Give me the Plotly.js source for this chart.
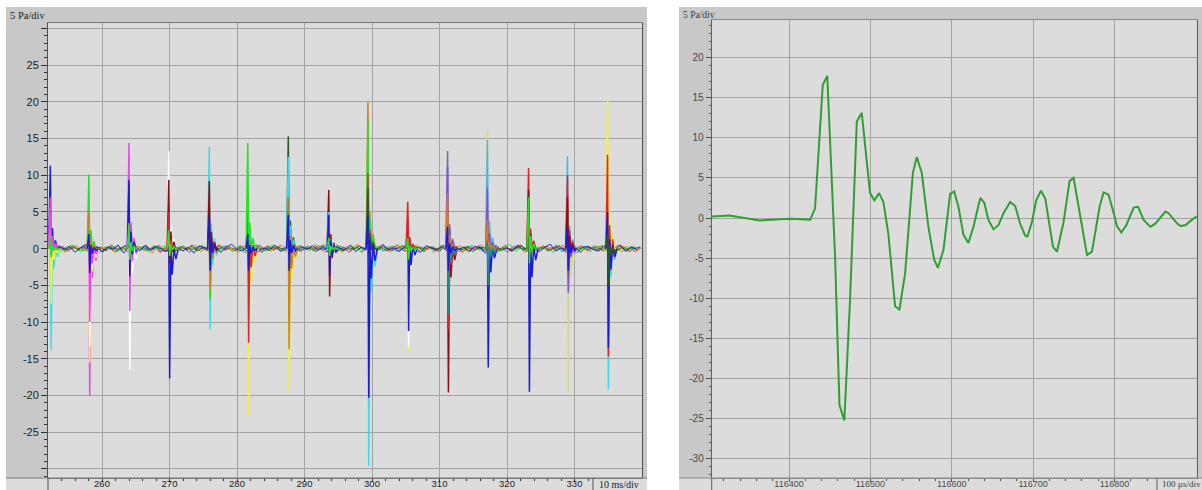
<!DOCTYPE html>
<html><head><meta charset="utf-8">
<script src="https://cdn.plot.ly/plotly-3.0.1.min.js"></script>
<style>html,body{margin:0;padding:0;background:#fff}#plot{width:1202px;height:490px}</style>
</head><body><div id="plot"></div>
<script>
// ---------- LEFT PANEL DATA (ms, Pa) ----------
const SPIKE_T = [252.35, 258.06, 264.0, 269.9, 275.9, 281.6, 287.6, 293.6, 299.4, 305.3, 311.2, 317.1, 323.2, 328.96, 334.9];
// each spike: [channel, max Pa, min Pa] in drawing order
const SPIKE_1  = [["cyan",0.5,-13.8],["blue",11.3,-2],["yellow",3.8,-7.5],["magenta",7,-1],["green",1.5,-1.2]];
const SPIKE_2  = [["magenta",1,-20],["yellow",0.5,-15.5],["white",0,-13.3],["magenta",0,-10],["green",10.1,-1],["orange",5,-1.5],["blue",2,-3.3]];
const SPIKE_3  = [["white",0,-16.5],["magenta",14.4,-8.5],["blue",9.4,-3.8],["green",3.5,-1.5]];
const SPIKE_4  = [["blue",0,-17.7],["white",13.3,0],["darkred",9.4,-2],["red",5,-1],["green",2.5,-1]];
const SPIKE_5  = [["cyan",13.9,-11],["darkred",9.2,-1],["green",2,-7],["orange",1,-5.5],["blue",4.6,-3]];
const SPIKE_6  = [["yellow",0,-22.8],["red",5,-12.8],["green",14.4,0],["blue",2,-3]];
const SPIKE_7  = [["yellow",0,-19.6],["orange",2,-13.7],["darkgreen",15.3,0],["cyan",12.5,-2],["olive",7,-1],["blue",4.6,-3]];
const SPIKE_8  = [["darkred",8,-6.5],["cyan",5,0],["blue",4.6,-3.7],["green",1.5,-1]];
const SPIKE_9  = [["cyan",0,-29.6],["orange",20,0],["green",17.5,0],["brown",10.3,0],["darkgreen",8.3,-1],["blue",4.4,-20.3]];
const SPIKE_10 = [["yellow",0,-14],["white",0,-13.4],["blue",4,-11.2],["red",6.4,0],["green",1.5,-1.5]];
const SPIKE_11 = [["darkred",0,-19.6],["red",0,-11],["teal",0,-8.9],["grayviolet",13.3,0],["violet",11.2,0],["orange",7.5,-1],["blue",3,-3]];
const SPIKE_12 = [["lightyellow",16.3,0],["lightblue",14.8,0],["violet",8.3,0],["blue",2,-16.2],["orange",3.9,-1],["teal",1,-5]];
const SPIKE_13 = [["blue",3,-19.5],["red",11,0],["darkred",8,-1],["green",7,-2]];
const SPIKE_14 = [["lightyellow",0,-19.5],["lightblue",12.6,0],["red",10,-2],["darkred",7,-1],["violet",0,-6],["blue",3,-3]];
const SPIKE_15 = [["cyan",0,-19.2],["yellow",20.3,0],["red",12.8,-14.7],["blue",5,-13.5],["darkgreen",2,-5]];
const SPIKES = [SPIKE_1,SPIKE_2,SPIKE_3,SPIKE_4,SPIKE_5,SPIKE_6,SPIKE_7,SPIKE_8,SPIKE_9,SPIKE_10,SPIKE_11,SPIKE_12,SPIKE_13,SPIKE_14,SPIKE_15];

// baseline wiggle read by eye, sampled every 0.8 ms
const NOISE_BLUE = [0.2,-0.3,0.4,-0.1,0.3,-0.5,0.1,0.6,-0.2,0.3,-0.4,0.2,-0.1,0.5,-0.6,0.2,0.1,-0.3,0.4,-0.2,0.3,-0.1,-0.4,0.5,0.1,-0.3,0.2,-0.6,0.4,0.1,-0.2,0.3,-0.5,0.2,0.6,-0.1,-0.3,0.2,0.4,-0.4,0.1,-0.2,0.5,-0.3,0.2,0.1,-0.5,0.3,-0.1,0.4,-0.2,0.2,-0.6,0.3,0.1,-0.2,0.5,-0.4,0.2,-0.1,0.3,-0.3,0.6,-0.2,0.1,-0.4,0.2,0.3,-0.1,-0.5,0.4,0.1,-0.2,0.3,-0.3,0.5,-0.1,0.2,-0.4,0.3,0.1,-0.6,0.2,0.4,-0.2,0.1,-0.3,0.5,-0.2,0.3,-0.1,-0.4,0.2,0.6,-0.3,0.1,-0.2,0.4,-0.5,0.2,0.3,-0.1,-0.3,0.4,0.1,-0.2,0.5,-0.4,0.2,-0.1];
const NOISE_GREEN = [-0.1,0.3,-0.4,0.2,0.5,-0.2,-0.3,0.1,0.4,-0.5,0.2,-0.1,0.3,-0.3,0.1,0.6,-0.2,0.2,-0.4,0.3,-0.1,0.4,-0.2,-0.5,0.3,0.1,0.2,-0.3,0.5,-0.1,0.3,-0.4,0.1,0.2,-0.2,0.4,-0.6,0.3,-0.1,0.2,-0.3,0.5,0.1,-0.2,0.3,-0.4,0.2,0.1,-0.3,0.6,-0.1,0.2,-0.2,0.4,-0.5,0.1,0.3,-0.1,0.2,-0.3,0.5,-0.2,0.1,0.3,-0.4,0.2,-0.1,0.4,-0.3,0.1,0.2,-0.5,0.3,-0.1,0.4,-0.2,0.1,-0.3,0.5,-0.1,-0.2,0.3,0.1,-0.4,0.2,0.6,-0.3,0.1,-0.2,0.4,0.2,-0.1,0.3,-0.5,0.1,0.2,-0.3,0.4,-0.1,0.2,-0.4,0.3,0.1,-0.2,0.5,-0.3,0.2,-0.1,0.3,-0.2];
const NOISE_ORANGE = [0.3,-0.2,0.1,-0.4,0.2,0.4,-0.1,-0.3,0.5,-0.2,0.1,0.3,-0.5,0.2,-0.1,0.4,-0.3,0.1,0.2,-0.6,0.3,0.1,-0.2,0.4,-0.3,0.2,-0.1,0.5,-0.4,0.1,0.2,-0.3,0.4,-0.1,0.1,-0.5,0.3,0.2,-0.2,0.4,-0.1,-0.3,0.2,0.5,-0.4,0.1,0.3,-0.2,0.2,-0.1,0.4,-0.5,0.1,0.2,-0.3,0.3,-0.1,0.6,-0.2,0.1,-0.3,0.4,0.2,-0.4,0.1,0.3,-0.2,0.1,0.5,-0.3,-0.1,0.2,-0.4,0.3,0.1,-0.2,0.4,-0.1,-0.3,0.2,0.5,-0.2,0.1,-0.4,0.3,-0.1,0.2,0.4,-0.5,0.1,-0.2,0.3,-0.1,0.2,-0.3,0.5,0.1,-0.4,0.2,-0.1,0.3,-0.2,0.4,-0.3,0.1,0.2,-0.4,0.3,-0.1,0.2];
const NOISE_RED = [-0.2,0.1,0.3,-0.3,0.2,-0.1,0.4,-0.4,0.1,0.2,-0.3,0.5,-0.1,0.2,-0.4,0.1,0.3,-0.2,-0.1,0.4,-0.5,0.2,0.1,-0.2,0.3,-0.1,0.4,-0.3,0.2,-0.4,0.1,0.5,-0.2,0.1,-0.3,0.2,0.3,-0.5,0.1,-0.1,0.4,-0.2,0.2,-0.3,0.1,0.5,-0.4,0.2,-0.1,0.3,-0.2,0.1,0.4,-0.3,0.2,-0.5,0.1,0.3,-0.2,0.4,-0.1,0.2,-0.3,0.1,0.5,-0.2,-0.4,0.3,0.1,-0.1,0.2,-0.3,0.4,-0.2,0.1,0.3,-0.5,0.2,-0.1,0.4,-0.3,0.1,0.2,-0.2,0.5,-0.4,0.1,0.3,-0.1,0.2,-0.3,0.4,-0.2,0.1,0.3,-0.5,0.2,-0.1,0.4,-0.2,0.1,0.3,-0.3,0.2,-0.1,0.5,-0.2,0.1,-0.4,0.2];
const NOISE_TEAL = [0.1,-0.2,0.3,-0.4,0.2,0.1,-0.3,0.5,-0.1,0.2,-0.5,0.3,0.1,-0.2,0.4,-0.3,0.2,-0.1,0.5,-0.2,0.1,-0.4,0.3,0.2,-0.1,0.4,-0.5,0.1,0.3,-0.2,0.2,-0.3,0.1,0.4,-0.4,0.2,-0.1,0.3,-0.2,0.5,-0.3,0.1,0.2,-0.4,0.1,0.3,-0.1,-0.2,0.4,-0.3,0.2,0.5,-0.1,-0.4,0.3,0.1,-0.2,0.2,-0.5,0.4,-0.1,0.2,-0.3,0.1,0.3,-0.2,0.4,-0.4,0.1,0.2,-0.1,0.3,-0.3,0.5,-0.2,0.1,-0.4,0.2,0.3,-0.1,0.2,-0.3,0.4,-0.2,0.1,-0.5,0.3,0.2,-0.1,0.4,-0.3,0.1,0.2,-0.2,0.5,-0.4,0.1,0.3,-0.1,0.2,-0.3,0.4,-0.2,0.1,0.3,-0.4,0.2,-0.1,0.3,-0.2];
const NOISE_DKGREEN = [-0.3,0.2,0.1,-0.2,0.4,-0.1,0.3,-0.5,0.2,0.1,-0.2,0.3,-0.4,0.1,0.5,-0.2,-0.1,0.3,-0.3,0.2,0.4,-0.4,0.1,-0.1,0.3,-0.2,0.5,-0.3,0.1,0.2,-0.4,0.3,-0.1,0.2,-0.2,0.4,-0.3,0.1,0.5,-0.5,0.2,-0.1,0.3,-0.2,0.1,-0.3,0.4,-0.1,0.2,-0.4,0.3,0.1,-0.2,0.5,-0.3,0.2,-0.1,0.4,-0.2,0.1,-0.5,0.3,0.2,-0.3,0.1,0.4,-0.1,-0.2,0.3,-0.4,0.2,0.1,-0.3,0.5,-0.1,0.2,-0.2,0.3,-0.4,0.1,0.2,-0.1,0.4,-0.3,0.2,-0.2,0.1,0.5,-0.4,0.3,-0.1,0.2,-0.3,0.1,0.4,-0.2,-0.1,0.3,-0.5,0.2,0.1,-0.3,0.4,-0.1,0.2,-0.2,0.3,-0.4,0.1,0.2];
const NOISE_START = {blue:252.0, green:252.4, orange:252.2, red:252.6, teal:252.1, darkgreen:252.5};
const NOISE_STEP = 0.8;

const LEFT_Y_TICKS = [-30,-25,-20,-15,-10,-5,0,5,10,15,20,25,30];
const LEFT_Y_LABELS = ["","-25","-20","-15","-10","-5","0","5","10","15","20","25",""];
const LEFT_X_TICKS = [260,270,280,290,300,310,320,330];

// ---------- RIGHT PANEL DATA (µs, Pa) ----------
const WAVE_T = [116305,116327,116364,116401,116426,116432,116441.5,116447,116456.6,116462,116468,116475,116483.3,116489.4,116499.6,116505,116510.7,116516,116522,116530.4,116535.7,116542.7,116552.2,116557,116563.2,116571.3,116578.4,116583,116589.8,116598,116603,116608.2,116614.4,116620.5,116626.7,116635,116640,116645,116651.3,116657.4,116663.6,116671.8,116678,116684,116690.3,116693,116698.5,116703.8,116709.6,116715,116724.4,116729.3,116737.4,116744.8,116749.7,116757.9,116766.2,116772.3,116781.7,116786.6,116792.7,116799,116803,116808.4,116814.5,116823.5,116829,116835.8,116844,116850.2,116862.5,116866.5,116877,116881,116887,116895.3,116901];
const WAVE_P = [0.2,0.3,-0.3,-0.1,-0.2,1.2,16.6,17.7,-4.8,-23.3,-25.2,-10.2,12,13.1,3.1,2.2,3.1,2,-1.9,-11,-11.4,-6.9,5.6,7.6,5.6,-1.1,-5.2,-6.2,-4,3,3.3,1.4,-2.1,-3.1,-1.1,2.5,1.9,-0.25,-1.4,-0.9,0.6,2,1.5,-0.7,-2.2,-2.3,-0.5,2.2,3.4,2.4,-3.6,-4.2,-0.5,4.6,5,0.2,-4.6,-4.2,1.4,3.2,2.9,0.6,-1,-1.8,-0.9,1.3,1.4,-0.25,-1.1,-0.7,0.8,0.6,-0.7,-1,-0.9,-0.2,0.2];
const RIGHT_Y_TICKS = [-30,-25,-20,-15,-10,-5,0,5,10,15,20];
const RIGHT_X_TICKS = [116400,116500,116600,116700,116800];

// ---------- STYLE ----------
const CH = {blue:'#1c1cd6', green:'#26e026', magenta:'#ee44ee', yellow:'#f2f23c', cyan:'#3cdcf0', red:'#e02626', darkred:'#8c1212', white:'#ffffff', orange:'#d08020', violet:'#8a52c8', darkgreen:'#2a5a2a', olive:'#8a8a40', brown:'#a05a20', teal:'#1a9090', lightblue:'#4cb4ec', lightyellow:'#d8d88a', grayviolet:'#7a70a0'};
const RING_DX = [-0.25, 0, 0.12, 0.3, 0.5, 0.75, 1.05, 1.4];
function spikeShape(mx, mn){ return [0, mx, mn, 0.25*mx, 0.2*mn, 0.1*mx, 0.08*mn, 0]; }

const W = 1202, H = 490;
const px = v => v / W, py = v => 1 - v / H;

const traces = [];
const noiseSets = [["teal",NOISE_TEAL],["red",NOISE_RED],["darkgreen",NOISE_DKGREEN],["orange",NOISE_ORANGE],["green",NOISE_GREEN],["blue",NOISE_BLUE]];
noiseSets.forEach(([c, arr]) => {
  traces.push({x: arr.map((_, i) => NOISE_START[c] + i*NOISE_STEP), y: arr, type:'scatter', mode:'lines',
    line:{color: CH[c], width:1}, xaxis:'x', yaxis:'y', hoverinfo:'skip', showlegend:false});
});
SPIKES.forEach((entries, k) => {
  const t = SPIKE_T[k];
  entries.forEach(([c, mx, mn]) => {
    traces.push({x: RING_DX.map(d => t + d), y: spikeShape(mx, mn), type:'scatter', mode:'lines',
      line:{color: CH[c], width:1.5}, xaxis:'x', yaxis:'y', hoverinfo:'skip', showlegend:false});
  });
});
traces.push({x: WAVE_T, y: WAVE_P, type:'scatter', mode:'lines', line:{color:'#2f9e34', width:2},
  xaxis:'x2', yaxis:'y2', hoverinfo:'skip', showlegend:false});

function minorVals(a, b, step, majors){ const out=[]; for(let v=a; v<=b+1e-9; v+=step){ const r=Math.round(v*100)/100; if(!majors.includes(r)) out.push(r);} return out; }

const tickFontL = {family:'Liberation Sans, Arial, sans-serif', size:11, color:'#202020'};
const tickFontR = {family:'Liberation Sans, Arial, sans-serif', size:10, color:'#4a4a4a'};
const xFontL = {family:'Liberation Sans, Arial, sans-serif', size:9.5, color:'#202020'};
const xFontR = {family:'Liberation Sans, Arial, sans-serif', size:9, color:'#4a4a4a'};
const gridC = '#a2a2a2';

const layout = {
  width: W, height: H, margin:{l:0,r:0,t:0,b:0},
  paper_bgcolor:'#ffffff', plot_bgcolor:'rgba(0,0,0,0)', showlegend:false,
  xaxis:{domain:[px(48), px(642)], range:[252, 340], anchor:'y', tickmode:'array', tickvals:LEFT_X_TICKS,
    ticktext:LEFT_X_TICKS.map(String), ticks:'outside', ticklen:3, tickcolor:'#303030', tickfont:xFontL, ticklabelstandoff:-6,
    showgrid:true, gridcolor:gridC, gridwidth:1, zeroline:false, showline:true, linecolor:'#7a7a7a', mirror:true,
    minor:{tickmode:'array', tickvals:minorVals(254,332,2,LEFT_X_TICKS), ticks:'outside', ticklen:2, tickcolor:'#303030', showgrid:false}},
  yaxis:{domain:[1-478/H, 1-23.3/H], range:[-31.24, 30.7], anchor:'x', tickmode:'array', tickvals:LEFT_Y_TICKS,
    ticktext:LEFT_Y_LABELS, ticks:'outside', ticklen:6, tickcolor:'#303030', tickfont:tickFontL,
    showgrid:true, gridcolor:gridC, gridwidth:1, zeroline:false, showline:true, linecolor:'#505050', mirror:true,
    minor:{tickmode:'array', tickvals:minorVals(-31,30,1,LEFT_Y_TICKS), ticks:'outside', ticklen:3, tickcolor:'#303030', showgrid:false}},
  xaxis2:{domain:[px(711.7), px(1196.7)], range:[116305, 116901], anchor:'y2', tickmode:'array', tickvals:RIGHT_X_TICKS,
    ticktext:RIGHT_X_TICKS.map(String), ticks:'outside', ticklen:3, tickcolor:'#505050', tickfont:xFontR, ticklabelstandoff:-6,
    showgrid:true, gridcolor:gridC, gridwidth:1, zeroline:false, showline:true, linecolor:'#8a8a8a', mirror:true,
    minor:{tickmode:'array', tickvals:minorVals(116320,116840,20,RIGHT_X_TICKS), ticks:'outside', ticklen:2, tickcolor:'#505050', showgrid:false}},
  yaxis2:{domain:[1-478/H, 1-20/H], range:[-32.38, 24.66], anchor:'x2', tickmode:'array', tickvals:RIGHT_Y_TICKS,
    ticktext:RIGHT_Y_TICKS.map(String), ticks:'outside', ticklen:5, tickcolor:'#505050', tickfont:tickFontR,
    showgrid:true, gridcolor:gridC, gridwidth:1, zeroline:false, showline:true, linecolor:'#606060', mirror:true,
    minor:{tickmode:'array', tickvals:minorVals(-32,24,1,RIGHT_Y_TICKS), ticks:'outside', ticklen:2, tickcolor:'#505050', showgrid:false}},
  shapes:[
    {type:'rect', xref:'paper', yref:'paper', x0:px(6), x1:px(647), y0:0, y1:py(7), fillcolor:'#c8c8c8', line:{width:0}, layer:'below'},
    {type:'rect', xref:'paper', yref:'paper', x0:px(679), x1:1, y0:0, y1:py(7), fillcolor:'#c8c8c8', line:{width:0}, layer:'below'},
    {type:'rect', xref:'paper', yref:'paper', x0:px(48), x1:px(642), y0:py(478), y1:py(23.3), fillcolor:'#dcdcdc', line:{width:0}, layer:'below'},
    {type:'rect', xref:'paper', yref:'paper', x0:px(711.7), x1:px(1196.7), y0:py(478), y1:py(20), fillcolor:'#dcdcdc', line:{width:0}, layer:'below'},
    {type:'rect', xref:'paper', yref:'paper', x0:px(6), x1:px(647), y0:0, y1:py(478), fillcolor:'#dcdcdc', line:{width:0}, layer:'below'},
    {type:'rect', xref:'paper', yref:'paper', x0:px(679), x1:1, y0:0, y1:py(478), fillcolor:'#dcdcdc', line:{width:0}, layer:'below'},
    {type:'line', xref:'paper', yref:'paper', x0:px(6), x1:px(647), y0:py(478), y1:py(478), line:{color:'#7a7a7a', width:1}},
    {type:'line', xref:'paper', yref:'paper', x0:px(679), x1:1, y0:py(478), y1:py(478), line:{color:'#8a8a8a', width:1}},
    {type:'line', xref:'paper', yref:'paper', x0:px(48), x1:px(48), y0:0, y1:py(478), line:{color:'#505050', width:1}},
    {type:'line', xref:'paper', yref:'paper', x0:px(593), x1:px(593), y0:0, y1:py(478), line:{color:'#505050', width:1}},
    {type:'line', xref:'paper', yref:'paper', x0:px(711.7), x1:px(711.7), y0:0, y1:py(478), line:{color:'#606060', width:1}},
    {type:'line', xref:'paper', yref:'paper', x0:px(1157), x1:px(1157), y0:0, y1:py(478), line:{color:'#606060', width:1}}
  ],
  annotations:[
    {text:'5 Pa/div', xref:'paper', yref:'paper', x:px(8), y:py(15.5), xanchor:'left', yanchor:'middle', showarrow:false,
      font:{family:'Liberation Serif, Times New Roman, serif', size:10.5, color:'#202020'}},
    {text:'10 ms/div', xref:'paper', yref:'paper', x:px(597), y:py(484), xanchor:'left', yanchor:'middle', showarrow:false,
      font:{family:'Liberation Serif, Times New Roman, serif', size:10, color:'#202020'}},
    {text:'5 Pa/div', xref:'paper', yref:'paper', x:px(681), y:py(15), xanchor:'left', yanchor:'middle', showarrow:false,
      font:{family:'Liberation Serif, Times New Roman, serif', size:9.5, color:'#3a3a3a'}},
    {text:'100 µs/div', xref:'paper', yref:'paper', x:px(1160), y:py(484), xanchor:'left', yanchor:'middle', showarrow:false,
      font:{family:'Liberation Serif, Times New Roman, serif', size:9, color:'#3a3a3a'}}
  ]
};
Plotly.newPlot('plot', traces, layout, {staticPlot:true, displayModeBar:false});
</script></body></html>
